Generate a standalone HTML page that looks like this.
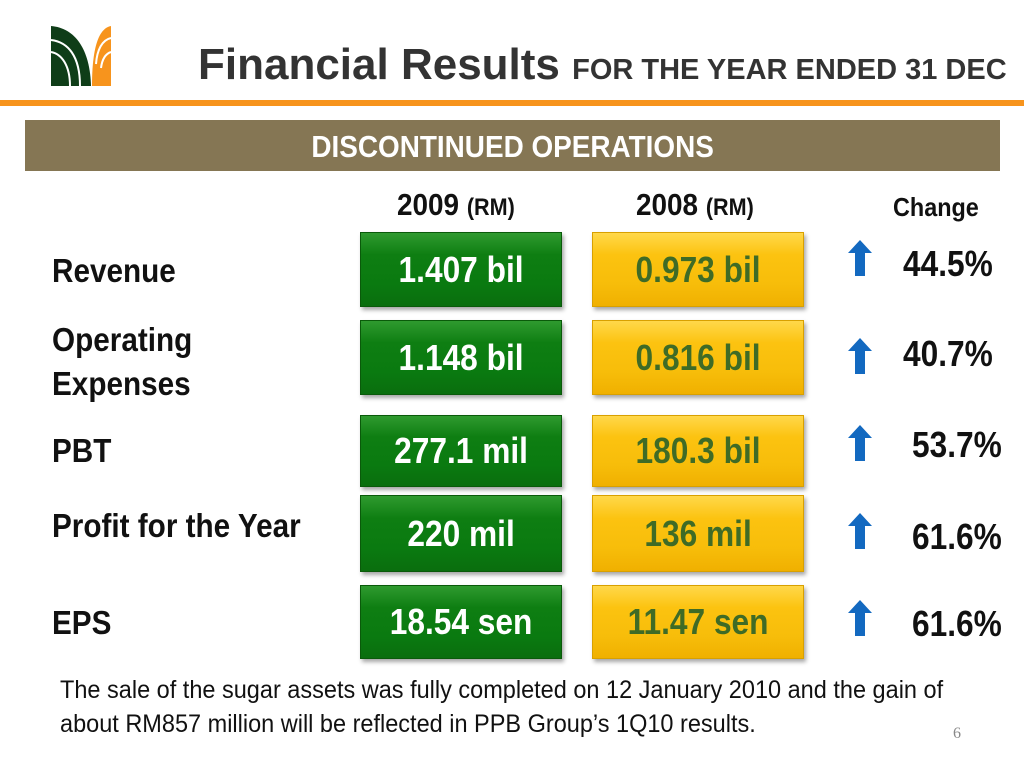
<!DOCTYPE html>
<html><head><meta charset="utf-8"><style>
body{margin:0;width:1024px;height:768px;background:#fff;position:relative;overflow:hidden;font-family:"Liberation Sans",sans-serif;}
.a{position:absolute;white-space:nowrap}
.n{display:inline-block;transform-origin:left center}
.lbl{font-weight:bold;font-size:33px;color:#111;left:52px}
.lbl .n{transform:scaleX(.9)}
.box{position:absolute;font-weight:bold;font-size:36px;display:flex;align-items:center;justify-content:center;box-shadow:2px 3px 4px rgba(0,0,0,.35)}
.box .n{transform:scaleX(.88);transform-origin:center}
.g{background:linear-gradient(#2f9a2f,#0e7e12 30%,#0a7a10 70%,#0a6e0e);color:#fff;border:1px solid #0a5a0a;left:360px;width:200px}
.y{background:linear-gradient(#ffd84a,#fcc310 30%,#f7bd0a 70%,#f0b000);color:#3f6b26;border:1px solid #d8a000;left:592px;width:210px}
.pct{font-weight:bold;font-size:36px;color:#111}
.pct .n{transform:scaleX(.88)}
.arr{position:absolute;width:24px;height:36px}
</style></head><body>
<svg class="a" style="left:50px;top:24px" width="62" height="62" viewBox="0 0 62 62">
<path d="M1,2 C25,4 40,25 41,62 L1,62Z" fill="#0f3d18"/>
<path d="M1,16 C18,18 30,32 30,62" stroke="#fff" stroke-width="2" fill="none"/>
<path d="M1,28 C12,30 20,42 20,62" stroke="#fff" stroke-width="2" fill="none"/>
<path d="M61,2 C50,4 42,20 42,62 L61,62Z" fill="#f7941d"/>
<path d="M61,14 C52,16 47,26 46,40" stroke="#fff" stroke-width="2" fill="none"/>
<path d="M61,28 C55,30 52,36 51,44" stroke="#fff" stroke-width="2" fill="none"/>
</svg>
<div class="a" style="left:198px;top:40px;font-weight:bold;font-size:44px;color:#333">Financial Results <span style="font-size:29px">FOR THE YEAR ENDED 31 DEC</span></div>
<div class="a" style="left:0;top:100px;width:1024px;height:6px;background:#f7941d"></div>
<div class="a" style="left:25px;top:120px;width:975px;height:51px;background:#857654;color:#fff;font-weight:bold;font-size:31px;text-align:center;line-height:54px"><span class="n" style="transform:scaleX(.9);transform-origin:center">DISCONTINUED OPERATIONS</span></div>
<div class="a" style="left:397px;top:187px;font-weight:bold;font-size:31px;color:#111"><span class="n" style="transform:scaleX(.9)">2009 <span style="font-size:24px">(RM)</span></span></div>
<div class="a" style="left:636px;top:187px;font-weight:bold;font-size:31px;color:#111"><span class="n" style="transform:scaleX(.9)">2008 <span style="font-size:24px">(RM)</span></span></div>
<div class="a" style="left:893px;top:192px;font-weight:bold;font-size:26px;color:#111"><span class="n" style="transform:scaleX(.9)">Change</span></div>

<div class="a lbl" style="top:252px"><span class="n">Revenue</span></div>
<div class="a lbl" style="top:318px;line-height:44px"><span class="n">Operating<br>Expenses</span></div>
<div class="a lbl" style="top:432px"><span class="n">PBT</span></div>
<div class="a lbl" style="top:507px"><span class="n">Profit for the Year</span></div>
<div class="a lbl" style="top:604px"><span class="n">EPS</span></div>

<div class="box g" style="top:232px;height:73px"><span class="n">1.407 bil</span></div>
<div class="box y" style="top:232px;height:73px"><span class="n">0.973 bil</span></div>
<div class="box g" style="top:320px;height:73px"><span class="n">1.148 bil</span></div>
<div class="box y" style="top:320px;height:73px"><span class="n">0.816 bil</span></div>
<div class="box g" style="top:415px;height:70px"><span class="n">277.1 mil</span></div>
<div class="box y" style="top:415px;height:70px"><span class="n">180.3 bil</span></div>
<div class="box g" style="top:495px;height:75px"><span class="n">220 mil</span></div>
<div class="box y" style="top:495px;height:75px"><span class="n">136 mil</span></div>
<div class="box g" style="top:585px;height:72px"><span class="n">18.54 sen</span></div>
<div class="box y" style="top:585px;height:72px"><span class="n">11.47 sen</span></div>

<svg class="arr" style="left:848px;top:240px" viewBox="0 0 24 36"><path d="M12,0 L24,13 L17,13 L17,36 L7,36 L7,13 L0,13Z" fill="#1369c0"/></svg>
<svg class="arr" style="left:848px;top:338px" viewBox="0 0 24 36"><path d="M12,0 L24,13 L17,13 L17,36 L7,36 L7,13 L0,13Z" fill="#1369c0"/></svg>
<svg class="arr" style="left:848px;top:425px" viewBox="0 0 24 36"><path d="M12,0 L24,13 L17,13 L17,36 L7,36 L7,13 L0,13Z" fill="#1369c0"/></svg>
<svg class="arr" style="left:848px;top:513px" viewBox="0 0 24 36"><path d="M12,0 L24,13 L17,13 L17,36 L7,36 L7,13 L0,13Z" fill="#1369c0"/></svg>
<svg class="arr" style="left:848px;top:600px" viewBox="0 0 24 36"><path d="M12,0 L24,13 L17,13 L17,36 L7,36 L7,13 L0,13Z" fill="#1369c0"/></svg>

<div class="a pct" style="left:903px;top:243px"><span class="n">44.5%</span></div>
<div class="a pct" style="left:903px;top:333px"><span class="n">40.7%</span></div>
<div class="a pct" style="left:912px;top:424px"><span class="n">53.7%</span></div>
<div class="a pct" style="left:912px;top:516px"><span class="n">61.6%</span></div>
<div class="a pct" style="left:912px;top:603px"><span class="n">61.6%</span></div>

<div class="a" style="left:60px;top:673px;font-size:25px;line-height:34px;color:#111"><span class="n" style="transform:scaleX(.94)">The sale of the sugar assets was fully completed on 12 January 2010 and the gain of<br>about RM857 million will be reflected in PPB Group’s 1Q10 results.</span></div>
<div class="a" style="left:953px;top:725px;font-family:'Liberation Serif',serif;font-size:16px;color:#888">6</div>
</body></html>
